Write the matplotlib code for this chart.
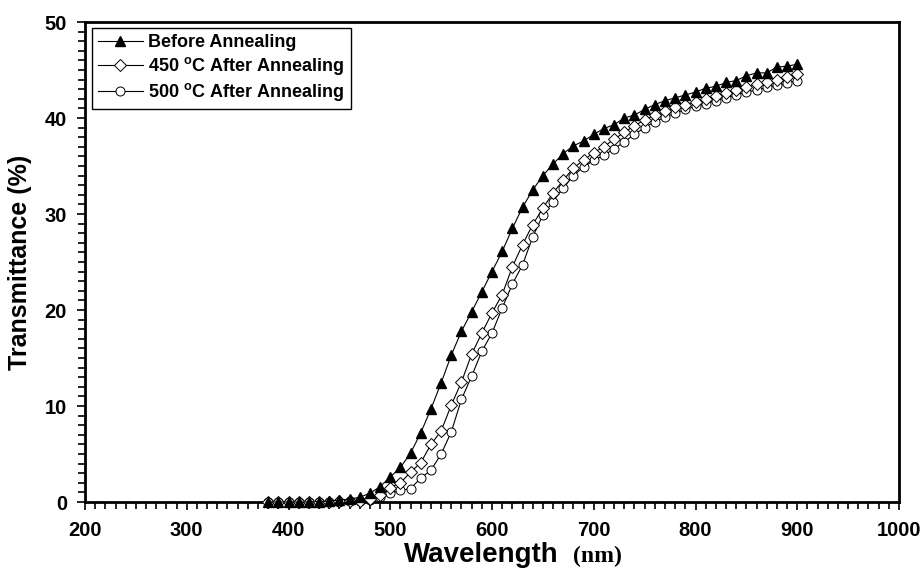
import matplotlib
matplotlib.use("Agg")
import matplotlib.pyplot as plt
from matplotlib.ticker import MultipleLocator

plt.rcParams['font.family'] = ['Liberation Sans', 'DejaVu Sans']
plt.rcParams['mathtext.fontset'] = 'custom'
plt.rcParams['mathtext.bf'] = 'Liberation Sans:bold'
plt.rcParams['mathtext.rm'] = 'Liberation Sans:bold'

wavelength = [380, 390, 400, 410, 420, 430, 440, 450, 460, 470,
              480, 490, 500, 510, 520, 530, 540, 550, 560, 570,
              580, 590, 600, 610, 620, 630, 640, 650, 660, 670,
              680, 690, 700, 710, 720, 730, 740, 750, 760, 770,
              780, 790, 800, 810, 820, 830, 840, 850, 860, 870,
              880, 890, 900]

before = [0.0, 0.0, 0.0, 0.0, 0.0, 0.05, 0.1, 0.2, 0.3, 0.5,
          0.9, 1.6, 2.6, 3.6, 5.1, 7.2, 9.7, 12.4, 15.3, 17.8,
          19.8, 21.9, 24.0, 26.1, 28.5, 30.7, 32.5, 34.0, 35.2, 36.3,
          37.1, 37.6, 38.3, 38.9, 39.3, 40.0, 40.3, 40.9, 41.4, 41.8,
          42.1, 42.4, 42.7, 43.1, 43.3, 43.7, 43.9, 44.4, 44.7, 44.7,
          45.3, 45.4, 45.6]

after450 = [0.0, 0.0, 0.0, 0.0, 0.0, 0.0, 0.05, 0.1, 0.1, 0.15,
            0.3, 0.7, 1.5, 2.0, 3.1, 4.1, 6.0, 7.4, 10.1, 12.5,
            15.4, 17.6, 19.7, 21.6, 24.5, 26.8, 28.9, 30.6, 32.2, 33.5,
            34.8, 35.6, 36.4, 37.0, 37.8, 38.5, 39.2, 39.8, 40.3, 40.7,
            41.1, 41.4, 41.7, 42.0, 42.3, 42.6, 42.9, 43.2, 43.5, 43.8,
            44.0, 44.3, 44.6]

after500 = [0.0, 0.0, 0.0, 0.0, 0.0, 0.0, 0.0, 0.05, 0.1, 0.1,
            0.2, 0.5, 0.9, 1.2, 1.4, 2.5, 3.3, 5.0, 7.3, 10.7,
            13.1, 15.7, 17.6, 20.2, 22.7, 24.7, 27.6, 29.9, 31.3, 32.7,
            34.0, 34.9, 35.6, 36.1, 36.8, 37.5, 38.3, 39.0, 39.6, 40.1,
            40.5, 40.9, 41.2, 41.5, 41.8, 42.1, 42.4, 42.7, 42.9, 43.2,
            43.4, 43.6, 43.9]

labels = ["Before Annealing",
          r"450 $^{\mathbf{o}}$C After Annealing",
          r"500 $^{\mathbf{o}}$C After Annealing"]

fig = plt.figure(figsize=(9.21, 5.78), dpi=100)
ax = fig.add_axes([85/921, 1 - 502/578, (899 - 85)/921, (502 - 22)/578])

ax.plot(wavelength, before, color='black', lw=0.8, marker='^', ms=7,
        mfc='black', mec='black', label=labels[0], clip_on=False, zorder=4)
ax.plot(wavelength, after450, color='black', lw=0.8, marker='D', ms=6,
        mfc='white', mec='black', mew=0.7, label=labels[1], clip_on=False, zorder=3)
ax.plot(wavelength, after500, color='black', lw=0.8, marker='o', ms=6.5,
        mfc='white', mec='black', mew=0.7, label=labels[2], clip_on=False, zorder=2)

ax.set_xlim(200, 1000)
ax.set_ylim(0, 50)
ax.xaxis.set_major_locator(MultipleLocator(100))
ax.xaxis.set_minor_locator(MultipleLocator(10))
ax.yaxis.set_major_locator(MultipleLocator(10))
ax.yaxis.set_minor_locator(MultipleLocator(1))
ax.tick_params(axis='both', which='both', direction='out', width=1.2,
               top=False, right=False)
ax.tick_params(axis='x', which='major', length=6, labelsize=14.5, pad=8)
ax.tick_params(axis='y', which='major', length=6, labelsize=14.5, pad=7)
ax.tick_params(axis='both', which='minor', length=5)
for lab in ax.get_xticklabels() + ax.get_yticklabels():
    lab.set_fontweight('bold')

for sp in ax.spines.values():
    sp.set_linewidth(2)

ax.set_ylabel("Transmittance (%)", fontsize=18, fontweight='bold', labelpad=9)

fig.text(404/921, 1 - 562/578, "Wavelength", fontsize=20, fontweight='bold',
         ha='left', va='baseline')
fig.text(573/921, 1 - 562/578, "(nm)", fontsize=17, fontweight='bold',
         ha='left', va='baseline', family=['Liberation Serif', 'DejaVu Serif'])

leg = ax.legend(loc='upper left', bbox_to_anchor=(0.008, 0.988), fancybox=False,
                edgecolor='black', framealpha=1, borderpad=0.35, handlelength=2.5,
                handletextpad=0.3, labelspacing=0.22, borderaxespad=0,
                prop={'weight': 'bold', 'size': 13})
leg.get_frame().set_linewidth(1.0)

fig.savefig("out.png", dpi=100)
